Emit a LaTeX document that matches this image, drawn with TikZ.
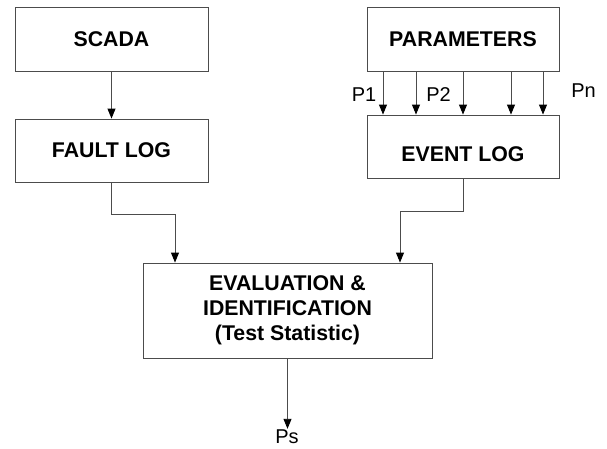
\documentclass[tikz,border=0pt]{standalone}
\usepackage{fontspec}
\setmainfont{Liberation Sans}
\usetikzlibrary{arrows.meta,calc}
\begin{document}
\begin{tikzpicture}[x=1pt,y=-1pt,
  box/.style={draw=black!70,line width=0.9pt,inner sep=0pt,align=center,
    font=\fontsize{21.3}{25}\selectfont\bfseries},
  lbl/.style={font=\fontsize{20}{24}\selectfont,inner sep=2pt},
  conn/.style={draw=black!70,line width=0.9pt,-{Triangle[width=8pt,length=10pt,color=black]}}]
\useasboundingbox (0,0) rectangle (607,448);
\node[box,minimum width=193pt,minimum height=64pt] (scada) at (111.5,39) {SCADA};
\node[box,minimum width=193pt,minimum height=63pt] (fault) at (111.5,150.5) {FAULT LOG};
\node[box,minimum width=192pt,minimum height=64pt] (param) at (463,39) {PARAMETERS};
\node[box,minimum width=192pt,minimum height=63pt] (event) at (463,146.5) {\raisebox{-8pt}[\height][\depth]{EVENT LOG}};
\node[box,minimum width=289pt,minimum height=95pt] (eval) at (287.5,310.5)
  {EVALUATION \&\\IDENTIFICATION\\(Test Statistic)};
\node[lbl] (p1) at (364,95) {P1};
\node[lbl] (p2) at (438.5,95) {P2};
\node[lbl] (pn) at (583.5,91) {Pn};
\node[lbl,inner sep=1pt] (ps) at (287,437) {Ps};
\coordinate (fl) at (175,214);
\coordinate (el) at (400,211);
\draw[conn] (scada.south) -- (fault.north);
\foreach \dx in {-80,-47,0,48,80}
  \draw[conn] ([xshift=\dx pt]param.south) -- ([xshift=\dx pt]event.north);
\draw[conn] (fault.south) |- (fl) -- (fl |- eval.north);
\draw[conn] (event.south) |- (el) -- (el |- eval.north);
\draw[conn] (eval.south) -- (eval.south |- ps.north);
\end{tikzpicture}
\end{document}
